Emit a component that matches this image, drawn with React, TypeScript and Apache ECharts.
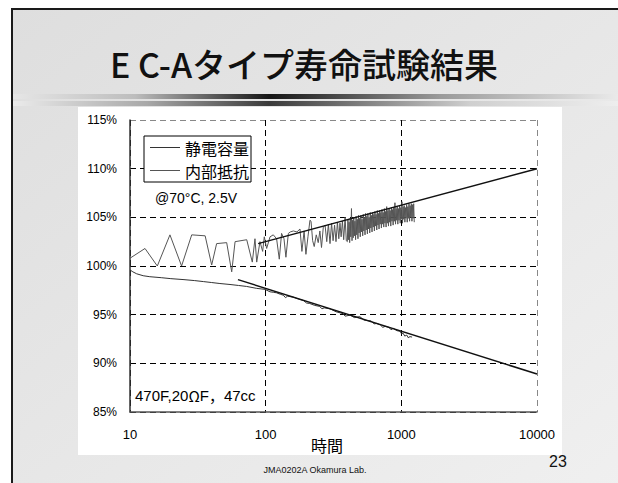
import React, { useEffect, useRef } from 'react';
import * as echarts from 'echarts';

// ---- data (hours, % of initial) ----
const legendNames = ['静電容量', '内部抵抗'];

const capacitance: [number, number][] = [
  [10, 99.6], [10.5, 99.4], [11.2, 99.2], [12.5, 99.0], [14, 98.9], [17, 98.8], [20, 98.7],
  [25, 98.6], [30, 98.5], [34.7, 98.4], [40, 98.3], [46, 98.2], [54.6, 98.1], [63, 98.0],
  [72.4, 97.9], [85.9, 97.7], [98.9, 97.6], [107.6, 97.35], [113.8, 97.3], [120, 97.25],
  [128, 97.1], [134.9, 97.0], [140, 96.75], [145, 96.9], [159.9, 96.8], [175, 96.6],
  [190, 96.45], [200, 96.2], [211, 96.15], [230, 95.95], [250, 95.85], [260, 95.6], [270, 95.7],
  [298, 95.6], [330, 95.3], [373, 95.1], [385, 94.85], [420, 94.95], [450, 94.7], [494, 94.8],
  [530, 94.45], [560, 94.4], [600, 94.35], [630, 94.05], [658, 94.1], [700, 93.95], [730, 93.7],
  [760, 93.8], [810, 93.7], [840, 93.45], [870, 93.6], [930, 93.35], [980, 93.3], [1000, 93.05],
  [1030, 93.1], [1060, 92.8], [1097, 92.9], [1130, 92.6], [1150, 92.75], [1200, 92.7]
];

const resistance: [number, number][] = [
  [10, 100.8], [12.9, 101.8], [15.9, 100.0], [19.7, 103.2], [24, 100.0], [28.5, 103.2],
  [35.8, 103.1], [40, 100.1], [43.5, 102.3], [51.6, 102.4], [56.2, 99.4], [59.5, 102.5],
  [72.5, 102.7], [79.7, 100.4], [83.4, 102.8], [85.9, 100.4], [90.8, 102.5], [95, 101.5],
  [97.7, 103.0], [101.7, 101.8], [107.7, 103.0], [113.8, 103.2], [120.4, 102.8], [126, 100.7],
  [131, 103.35], [136.5, 102.8], [141, 100.9], [147, 103.35], [152, 103.5], [160, 103.6],
  [170, 103.5], [179, 103.8], [185, 101.5], [192, 103.6], [198, 101.2], [205, 103.0],
  [212, 104.7], [216, 104.6], [222, 102.6], [228, 102.0], [236, 103.2], [244, 102.4],
  [251, 103.6], [258, 101.9], [266, 104.0], [274, 104.2], [282, 102.5], [290, 104.3],
  [298, 102.3], [306, 104.4], [314, 102.6], [322, 104.2], [330, 102.5], [338, 104.5],
  [346, 102.8], [353, 104.4], [360, 103.0], [368, 104.6], [376, 102.7], [385, 105.0],
  [393, 102.6],
  [400, 102.5], [404, 104.8], [408, 102.7], [412, 104.5], [416, 102.4], [420, 104.9],
  [424, 103.0], [429, 105.9], [433, 102.6], [437, 104.7], [442, 102.9], [446, 105.0],
  [451, 103.1], [455, 104.6], [460, 102.7], [464, 105.1], [469, 103.2], [474, 104.8],
  [479, 102.8], [483, 105.2], [488, 103.4], [493, 104.9], [498, 103.0], [503, 105.2],
  [508, 103.5], [513, 104.8], [519, 103.1], [524, 105.3], [529, 103.6], [534, 105.0],
  [540, 103.2], [545, 105.4], [551, 103.7], [556, 105.1], [562, 103.3], [567, 105.4],
  [573, 103.8], [579, 105.0], [585, 103.4], [590, 105.5], [596, 103.9], [602, 105.2],
  [608, 103.5], [614, 105.5], [621, 104.0], [627, 105.3], [633, 103.6], [639, 105.6],
  [646, 104.1], [652, 105.3], [659, 103.7], [665, 105.7], [672, 104.2], [679, 105.4],
  [685, 103.8], [692, 105.7], [699, 104.3], [706, 105.5], [713, 103.9], [720, 105.8],
  [728, 104.3], [735, 105.5], [742, 104.0], [750, 105.9], [757, 104.4], [765, 105.6],
  [772, 104.0], [780, 106.1], [788, 104.4], [796, 105.7], [804, 104.1], [812, 105.9],
  [820, 104.5], [828, 105.7], [836, 104.1], [845, 106.0], [853, 104.6], [862, 105.8],
  [870, 104.2], [879, 106.0], [888, 104.6], [897, 106.5], [906, 104.3], [915, 105.9],
  [924, 104.7], [933, 106.1], [942, 104.3], [952, 105.9], [961, 104.7], [971, 106.2],
  [981, 104.4], [990, 106.0], [1000, 104.8], [1010, 106.6], [1020, 104.4], [1031, 106.1],
  [1041, 104.8], [1051, 106.2], [1062, 104.5], [1073, 106.0], [1083, 104.9], [1094, 106.3],
  [1105, 104.5], [1116, 106.1], [1127, 104.9], [1139, 106.4], [1150, 104.6], [1162, 106.2],
  [1173, 105.0], [1185, 106.4], [1197, 104.6], [1209, 106.3], [1221, 104.9], [1233, 106.4],
  [1245, 104.5]
];

const capacitanceFit: [number, number][] = [[62.5, 98.6], [10000, 88.9]];
const resistanceFit: [number, number][] = [[88, 102.3], [10000, 110.0]];

const xMin = 10;
const xMax = 10000;
const yMin = 85;
const yMax = 115;
const yStep = 5;

const titleText = 'E C-Aタイプ寿命試験結果';
const conditionText = '@70°C, 2.5V';
const xName = '時間';
const footerText = 'JMA0202A Okamura Lab.';
const pageNo = '23';

const JP = '"Noto Sans CJK JP", "Noto Sans", sans-serif';
const AR = '"Liberation Sans", Arial, sans-serif';

export default function App() {
  const ref = useRef<HTMLDivElement>(null);
  useEffect(() => {
    if (!ref.current) return;
    const chart = echarts.init(ref.current, undefined, { renderer: 'svg' });
    chart.setOption({
      animation: false,
      backgroundColor: '#ffffff',
      graphic: [
        {
          type: 'rect', z: -20, silent: true,
          shape: { x: 12, y: 9, width: 620, height: 490 },
          style: {
            fill: new echarts.graphic.LinearGradient(0, 0, 1, 1, [
              { offset: 0, color: '#dedede' },
              { offset: 1, color: '#f0f0f0' }
            ]),
            stroke: '#1a1a1a', lineWidth: 2
          }
        },
        {
          type: 'rect', z: -19, silent: true,
          shape: { x: 13, y: 94, width: 610, height: 5 },
          style: {
            fill: new echarts.graphic.LinearGradient(0, 0, 1, 0, [
              { offset: 0, color: '#e6e6e6' },
              { offset: 0.2, color: '#bdbdbd' },
              { offset: 0.42, color: '#151515' },
              { offset: 0.7, color: '#9a9a9a' },
              { offset: 1, color: '#ececec' }
            ])
          }
        },
        {
          type: 'rect', z: -19, silent: true,
          shape: { x: 13, y: 101, width: 610, height: 5 },
          style: {
            fill: new echarts.graphic.LinearGradient(0, 0, 1, 0, [
              { offset: 0, color: '#ebebeb' },
              { offset: 0.22, color: '#a8a8a8' },
              { offset: 0.42, color: '#3a3a3a' },
              { offset: 0.75, color: '#cfcfcf' },
              { offset: 1, color: '#efefef' }
            ])
          }
        },
        {
          type: 'rect', z: -18, silent: true,
          shape: { x: 78, y: 107, width: 484, height: 348 },
          style: { fill: '#ffffff' }
        },
        {
          type: 'text', z: 10, silent: true, x: 304, y: 63,
          style: {
            text: titleText, fill: '#111', font: `500 34px ${JP}`,
            align: 'center', verticalAlign: 'middle'
          }
        },
        {
          type: 'text', z: 10, silent: true, x: 155, y: 198,
          style: { text: conditionText, fill: '#000', font: `14px ${AR}`, verticalAlign: 'middle' }
        },
        {
          type: 'text', z: 10, silent: true, x: 135, y: 395,
          style: {
            text: '{a|470F,20}{b|Ω}{a|F}{b|，}{a|47cc}',
            verticalAlign: 'middle',
            rich: {
              a: { fontSize: 15, fontFamily: AR, fill: '#000' },
              b: { fontSize: 15, fontFamily: JP, fill: '#000' }
            }
          }
        },
        {
          type: 'text', z: 10, silent: true, x: 327, y: 445,
          style: { text: xName, fill: '#000', font: `16px ${JP}`, align: 'center', verticalAlign: 'middle' }
        },
        {
          type: 'text', z: 10, silent: true, x: 315, y: 470,
          style: { text: footerText, fill: '#111', font: `9px ${AR}`, align: 'center', verticalAlign: 'middle' }
        },
        {
          type: 'text', z: 10, silent: true, x: 558, y: 461,
          style: { text: pageNo, fill: '#111', font: `16px ${AR}`, align: 'center', verticalAlign: 'middle' }
        }
      ],
      legend: {
        data: legendNames,
        orient: 'vertical',
        left: 144,
        top: 136,
        icon: 'rect',
        backgroundColor: '#fff',
        borderColor: '#000',
        borderWidth: 1,
        borderRadius: 0,
        padding: [3, 2, 3, 6],
        itemGap: 6,
        itemWidth: 30,
        itemHeight: 1,
        textStyle: { fontSize: 16, lineHeight: 17, fontFamily: JP, color: '#000' }
      },
      grid: { left: 130, right: 81, top: 120, bottom: 71 },
      xAxis: {
        type: 'log',
        logBase: 10,
        min: xMin,
        max: xMax,
        axisLine: { show: true, lineStyle: { color: '#555', width: 1.5 } },
        axisTick: { show: false },
        minorTick: { show: false },
        axisLabel: {
          margin: 16, fontSize: 13, fontFamily: AR, color: '#000',
          formatter: (v: number) => String(Math.round(v))
        },
        splitLine: {
          show: true,
          lineStyle: { type: [6, 4], width: 1, color: ['#000', '#000', '#000', '#888'] }
        }
      },
      yAxis: {
        type: 'value',
        min: yMin,
        max: yMax,
        interval: yStep,
        axisLine: { show: true, lineStyle: { color: '#333', width: 1.5 } },
        axisTick: { show: false },
        axisLabel: {
          margin: 13, fontSize: 12, fontFamily: AR, color: '#000',
          formatter: '{value}%'
        },
        splitLine: {
          show: true,
          lineStyle: {
            type: [6, 4], width: 1,
            color: ['#000', '#000', '#000', '#000', '#000', '#000', '#888']
          }
        }
      },
      series: [
        {
          name: legendNames[0], type: 'line', data: capacitance, symbol: 'none',
          lineStyle: { color: '#333', width: 1 }, itemStyle: { color: '#333' }, z: 3
        },
        {
          name: legendNames[1], type: 'line', data: resistance, symbol: 'none',
          lineStyle: { color: '#555', width: 1 }, itemStyle: { color: '#555' }, z: 3
        },
        {
          name: 'capFit', type: 'line', data: capacitanceFit, symbol: 'none',
          lineStyle: { color: '#111', width: 1.5 }, z: 4
        },
        {
          name: 'resFit', type: 'line', data: resistanceFit, symbol: 'none',
          lineStyle: { color: '#111', width: 1.5 }, z: 4
        }
      ]
    });
    return () => chart.dispose();
  }, []);
  return (
    <div
      ref={ref}
      style={{ position: 'absolute', left: 0, top: 0, width: 618, height: 483 }}
    />
  );
}
